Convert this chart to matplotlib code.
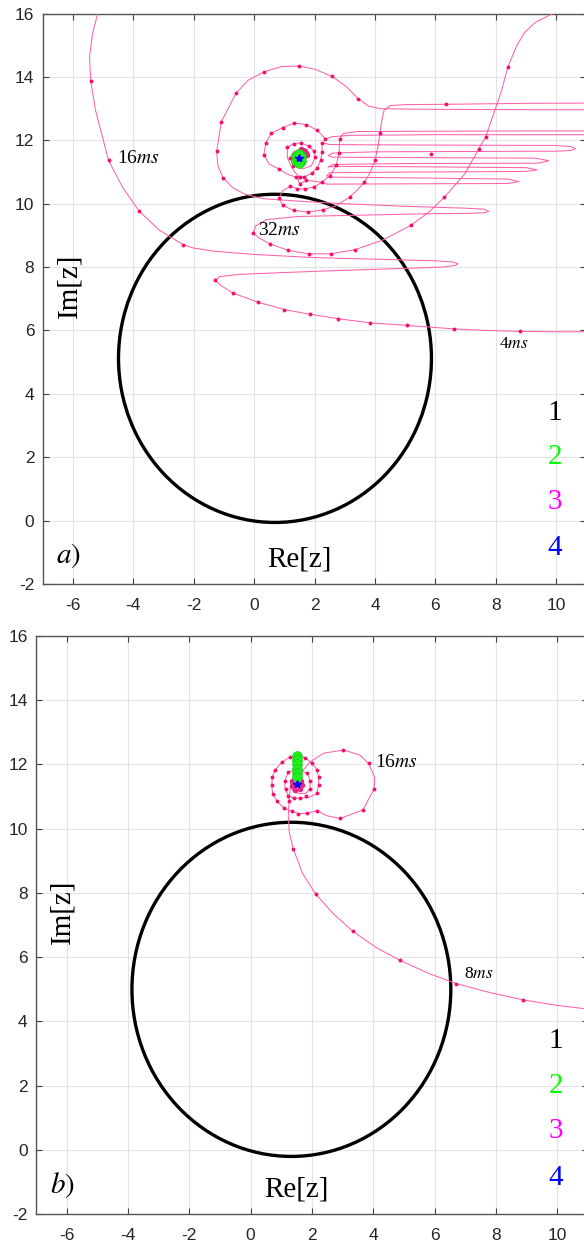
import numpy as np
import matplotlib
matplotlib.use("Agg")
import matplotlib.pyplot as plt
from matplotlib.patches import Ellipse

# ---------------- data ----------------
# boundary circles (centre x, centre y, radius)
circle_a = (0.69, 5.12, 5.18)
circle_b = (1.33, 5.0, 5.2)

# panel a: outer branch (4 ms -> 16 ms), leaves through the top
a_outer = [(11.3, 5.96), (10.0, 5.96), (8.79, 5.97), (7.7, 6.0), (6.61, 6.05), (5.07, 6.16),
           (3.84, 6.24), (2.79, 6.37), (1.86, 6.51), (1.0, 6.66), (0.14, 6.89), (-0.70, 7.18),
           (-1.1, 7.42), (-1.28, 7.58), (-1.15, 7.7), (-0.5, 7.77), (1.0, 7.83), (3.0, 7.9),
           (5.0, 7.96), (6.2, 8.0), (6.65, 8.05), (6.75, 8.1), (6.6, 8.16), (6.0, 8.2), (4.0, 8.25),
           (2.0, 8.3), (0.0, 8.4), (-1.3, 8.5), (-2.0, 8.6), (-2.35, 8.71), (-3.13, 9.16),
           (-3.81, 9.77), (-4.36, 10.53), (-4.82, 11.37), (-5.25, 12.95), (-5.41, 13.87),
           (-5.45, 14.63), (-5.35, 15.37), (-5.1, 16.3)]

# panel a: re-entry from the top (-> 32 ms), loops and fingers towards the fixed point
a_inner = [(9.95, 16.3), (9.88, 16.0), (9.3, 15.72), (8.95, 15.4), (8.7, 15.0), (8.40, 14.32),
           (8.2, 13.6), (7.97, 12.95), (7.66, 12.1), (7.44, 11.74), (6.98, 10.95), (6.30, 10.21),
           (5.8, 9.75), (5.19, 9.32), (4.27, 8.86), (3.34, 8.55), (2.54, 8.42), (1.80, 8.42),
           (1.12, 8.53), (0.51, 8.74), (0.15, 8.93), (-0.03, 9.07), (0.05, 9.3), (0.4, 9.5),
           (1.5, 9.6), (3.5, 9.64), (5.5, 9.68), (7.2, 9.7), (7.65, 9.72), (7.77, 9.76),
           (7.6, 9.83), (7.0, 9.86), (5.0, 9.92), (3.0, 10.0), (1.5, 10.08), (0.3, 10.16),
           (-0.3, 10.3), (-0.7, 10.5), (-1.03, 10.82), (-1.2, 11.2), (-1.24, 11.65),
           (-1.09, 12.58), (-0.60, 13.49), (-0.2, 13.9), (0.32, 14.16), (0.9, 14.33), (1.47, 14.35),
           (2.0, 14.25), (2.58, 14.02), (3.05, 13.7), (3.44, 13.32), (3.8, 13.08), (4.2, 13.0),
           (6.0, 12.98), (9.0, 12.97), (11.5, 12.97), (12.0, 13.07), (11.5, 13.18), (9.0, 13.17),
           (6.34, 13.14), (5.0, 13.13), (4.5, 13.1), (4.3, 12.95), (4.22, 12.6), (4.17, 12.24),
           (4.1, 11.8), (4.0, 11.37), (3.85, 11.0), (3.65, 10.68), (3.4, 10.42), (3.16, 10.21),
           (2.7, 9.93), (2.28, 9.81), (1.79, 9.74), (1.31, 9.79), (0.94, 9.95), (0.83, 10.19),
           (0.95, 10.42), (1.2, 10.55), (1.43, 10.47), (1.70, 10.47), (1.98, 10.53), (2.25, 10.68),
           (2.51, 10.89), (2.72, 11.21), (2.81, 11.6), (2.83, 12.05), (2.95, 12.22), (3.4, 12.28),
           (6.0, 12.29), (9.0, 12.3), (11.5, 12.3), (12.0, 12.25), (11.5, 12.18), (9.0, 12.18),
           (6.0, 12.18), (3.2, 12.16), (2.6, 12.12), (2.36, 12.05), (2.09, 12.32), (1.72, 12.5),
           (1.32, 12.55), (0.94, 12.4), (0.57, 12.23), (0.39, 11.92), (0.32, 11.55), (0.5, 11.25),
           (0.82, 11.1), (1.1, 10.93), (1.39, 10.84), (1.65, 10.84), (1.92, 10.97), (2.09, 11.14),
           (2.2, 11.37), (2.25, 11.63), (2.25, 11.92), (2.5, 11.87), (4.0, 11.86), (7.0, 11.85),
           (10.0, 11.84), (10.5, 11.8), (10.64, 11.74), (10.5, 11.68), (10.0, 11.66), (7.0, 11.65),
           (4.0, 11.64), (2.6, 11.6), (2.45, 11.52), (2.6, 11.47), (5.0, 11.46), (9.3, 11.44),
           (9.76, 11.36), (9.4, 11.28), (5.0, 11.27), (2.6, 11.24), (2.45, 11.16), (2.6, 11.18),
           (5.0, 11.17), (9.0, 11.14), (9.37, 11.07), (9.0, 11.02), (5.0, 11.0), (2.5, 10.98),
           (2.4, 10.88), (2.6, 10.84), (5.0, 10.82), (8.4, 10.78), (8.77, 10.7), (8.4, 10.64),
           (5.0, 10.63), (2.4, 10.62), (2.1, 10.7), (1.73, 10.74), (1.51, 10.63), (1.45, 10.75),
           (1.51, 10.84), (1.3, 11.05), (1.1, 11.45), (1.1, 11.79), (1.31, 11.9), (1.56, 11.92),
           (1.8, 11.82), (1.99, 11.66), (2.02, 11.47), (1.9, 11.2), (1.6, 11.1), (1.3, 11.2),
           (1.2, 11.45), (1.3, 11.65), (1.55, 11.72), (1.75, 11.6), (1.72, 11.4), (1.5, 11.43)]

a_dots = [(8.79, 5.97), (6.61, 6.05), (5.07, 6.16), (3.84, 6.24), (2.79, 6.37), (1.86, 6.51),
          (1.0, 6.66), (0.14, 6.89), (-0.70, 7.18), (-1.28, 7.58), (-2.35, 8.71), (-3.81, 9.77),
          (-4.82, 11.37), (-5.41, 13.87),
          (8.40, 14.32), (7.66, 12.1), (7.44, 11.74), (6.30, 10.21), (5.19, 9.32), (3.34, 8.55),
          (2.54, 8.42), (1.80, 8.42), (1.12, 8.53), (0.51, 8.74), (-0.03, 9.07),
          (-1.03, 10.82), (-1.24, 11.65), (-1.09, 12.58), (-0.60, 13.49), (0.32, 14.16),
          (1.47, 14.35), (2.58, 14.02), (3.44, 13.32), (6.34, 13.14), (5.85, 11.58),
          (4.17, 12.24), (4.0, 11.37), (3.65, 10.68), (3.16, 10.21), (2.28, 9.81), (1.79, 9.74),
          (1.31, 9.79), (0.94, 9.95), (0.83, 10.19),
          (1.2, 10.55), (1.43, 10.47), (1.70, 10.47), (1.98, 10.53), (2.25, 10.68), (2.51, 10.89),
          (2.72, 11.21), (2.81, 11.6), (2.83, 12.05),
          (2.36, 12.05), (2.09, 12.32), (1.72, 12.5), (1.32, 12.55), (0.94, 12.4), (0.57, 12.23),
          (0.39, 11.92), (0.32, 11.55), (0.82, 11.1), (1.39, 10.84), (1.65, 10.84), (1.92, 10.97),
          (2.09, 11.14), (2.2, 11.37), (2.25, 11.63), (2.25, 11.92),
          (1.1, 11.79), (1.31, 11.9), (1.56, 11.92), (1.8, 11.82), (1.99, 11.66), (2.02, 11.47),
          (1.73, 10.74), (1.51, 10.63), (1.51, 10.84), (1.3, 11.2), (1.2, 11.45)]

a_magenta = [(1.55, 11.72), (1.62, 11.7), (1.68, 11.66), (1.72, 11.6), (1.75, 11.53)]
a_green = [(1.47, 11.43), (1.38, 11.5), (1.56, 11.5), (1.38, 11.36), (1.56, 11.36), (1.47, 11.56), (1.47, 11.3)]
a_blue = [(1.47, 11.43)]

# panel b
b_path = [(11.3, 4.35), (10.0, 4.5), (8.9, 4.67), (7.8, 4.9), (6.70, 5.18), (5.8, 5.5), (4.88, 5.9),
          (4.1, 6.3), (3.33, 6.81), (2.7, 7.35), (2.12, 7.97), (1.7, 8.6), (1.39, 9.38), (1.26, 9.9),
          (1.23, 10.4), (1.26, 10.93), (1.3, 11.35), (1.45, 11.6), (1.67, 11.77), (1.94, 12.08),
          (2.38, 12.35), (3.03, 12.45), (3.55, 12.3), (3.85, 12.03), (4.05, 11.6), (4.03, 11.24),
          (3.66, 10.58), (2.92, 10.32), (2.5, 10.4), (2.16, 10.56), (1.85, 10.48), (1.56, 10.47),
          (1.34, 10.54), (1.08, 10.65), (0.87, 10.85), (0.72, 11.09), (0.69, 11.35), (0.71, 11.61),
          (0.81, 11.84), (1.02, 12.07), (1.28, 12.23), (1.55, 12.26), (1.79, 12.2), (2.0, 12.05),
          (2.16, 11.84), (2.22, 11.61), (2.22, 11.35), (2.16, 11.1), (1.9, 10.97), (1.61, 10.95),
          (1.4, 10.95), (1.23, 11.03), (1.12, 11.25), (1.12, 11.5), (1.23, 11.77), (1.45, 11.82),
          (1.7, 11.78), (1.85, 11.72), (1.94, 11.5), (1.94, 11.24), (1.8, 11.1), (1.55, 11.1),
          (1.35, 11.2), (1.3, 11.4), (1.45, 11.6), (1.65, 11.5), (1.55, 11.3), (1.45, 11.4)]

b_dots = [(8.9, 4.67), (6.70, 5.18), (4.88, 5.9), (3.33, 6.81), (2.12, 7.97), (1.39, 9.38), (1.26, 10.85),
          (3.03, 12.45), (3.85, 12.03), (4.03, 11.24), (3.66, 10.58), (2.92, 10.32), (2.16, 10.56),
          (1.85, 10.48), (1.56, 10.47), (1.34, 10.54), (1.08, 10.65), (0.87, 10.85), (0.72, 11.09),
          (0.69, 11.35), (0.71, 11.61), (0.81, 11.84), (1.02, 12.07), (1.28, 12.23), (1.55, 12.26),
          (1.79, 12.2), (2.0, 12.05), (2.16, 11.84), (2.22, 11.61), (2.22, 11.35), (2.16, 11.1),
          (1.12, 11.5), (1.15, 11.25), (1.23, 11.03), (1.4, 10.95), (1.61, 10.95), (1.81, 11.03),
          (1.94, 11.24), (1.94, 11.5), (1.85, 11.72), (1.23, 11.77)]

b_green = [(1.5, 12.27), (1.5, 12.14), (1.5, 12.0), (1.5, 11.86), (1.5, 11.72), (1.5, 11.6)]
b_magenta = [(1.5, 11.58), (1.64, 11.5), (1.68, 11.36), (1.6, 11.24), (1.45, 11.22), (1.34, 11.32),
             (1.34, 11.47), (1.5, 11.4)]
b_blue = [(1.5, 11.38)]

a_times = [("16", -4.55, 11.42, 14), ("32", 0.12, 9.16, 14), ("4", 8.1, 5.58, 12.5)]
b_times = [("16", 4.06, 12.05, 14), ("8", 6.97, 5.47, 12.5)]

series_labels = ["1", "2", "3", "4"]
series_colors = ["black", "#00ff00", "#ff00ff", "#0000ff"]
series_y = [3.4, 2.0, 0.58, -0.88]

xticks = [-6, -4, -2, 0, 2, 4, 6, 8, 10]
yticks = [-2, 0, 2, 4, 6, 8, 10, 12, 14, 16]

# ---------------- drawing ----------------
plt.rcParams.update({"mathtext.fontset": "stix", "font.family": "Liberation Sans",
                     "axes.unicode_minus": False})
LINE = "#ff62aa"
DOT = "#f2106e"
SERIF = "Liberation Serif"

fig = plt.figure(figsize=(5.84, 12.45), dpi=100)
ax_a = fig.add_axes([0.0731, 0.531, 0.931, 0.458])
ax_b = fig.add_axes([0.0616, 0.0247, 0.945, 0.4645])


def xy(pts):
    arr = np.array(pts)
    return arr[:, 0], arr[:, 1]


def base(ax, circ, paths, dots, green, magenta, blue, times, tag):
    ax.set_xlim(-7, 11)
    ax.set_ylim(-2, 16)
    ax.set_xticks(xticks)
    ax.set_yticks(yticks)
    ax.grid(True, color="#e3e3e3", lw=0.8)
    ax.set_axisbelow(True)
    ax.tick_params(direction="in", length=4, width=0.8, colors="#404040", labelsize=12.5,
                   top=True, right=True, labelcolor="#262626")
    ax.tick_params(axis="x", pad=10)
    ax.tick_params(axis="y", pad=6)
    for s in ax.spines.values():
        s.set_color("#555555")
        s.set_linewidth(1.0)
    ax.add_patch(Ellipse(circ[:2], 2 * circ[2], 2 * circ[2], fill=False, ec="black", lw=2.4, zorder=3))
    for p in paths:
        x, y = xy(p)
        ax.plot(x, y, color=LINE, lw=0.75, zorder=4)
    x, y = xy(dots)
    ax.plot(x, y, "o", color=DOT, ms=2.8, mec="none", zorder=5)
    x, y = xy(magenta)
    ax.plot(x, y, "o", color="#e8208a", ms=4, mec="none", zorder=6)
    x, y = xy(green)
    ax.plot(x, y, "o", color="#22ee22", ms=7, mec="#11cc11", mew=0.5, zorder=7)
    x, y = xy(blue)
    ax.plot(x, y, "*", color="#0000ff", ms=6, zorder=8)
    for num, tx, ty, fs in times:
        ax.text(tx, ty, num + r"$\mathit{ms}$", fontsize=fs, family=SERIF, va="center", ha="left", zorder=9)
    for lab, col, ly in zip(series_labels, series_colors, series_y):
        ax.text(9.95, ly, lab, color=col, fontsize=21, family=SERIF, ha="center", va="center")
    ax.text(-6.13, 7.4, "Im[z]", rotation=90, fontsize=21, family=SERIF, ha="center", va="center")
    ax.text(1.5, -1.22, "Re[z]", fontsize=21, family=SERIF, ha="center", va="center")
    ax.text(-6.55, -1.1, "$" + tag + ")$", fontsize=21, ha="left", va="center")


base(ax_a, circle_a, [a_outer, a_inner], a_dots, a_green, a_magenta, a_blue, a_times, "a")
base(ax_b, circle_b, [b_path], b_dots, b_green, b_magenta, b_blue, b_times, "b")

fig.savefig("out.png", dpi=100)
